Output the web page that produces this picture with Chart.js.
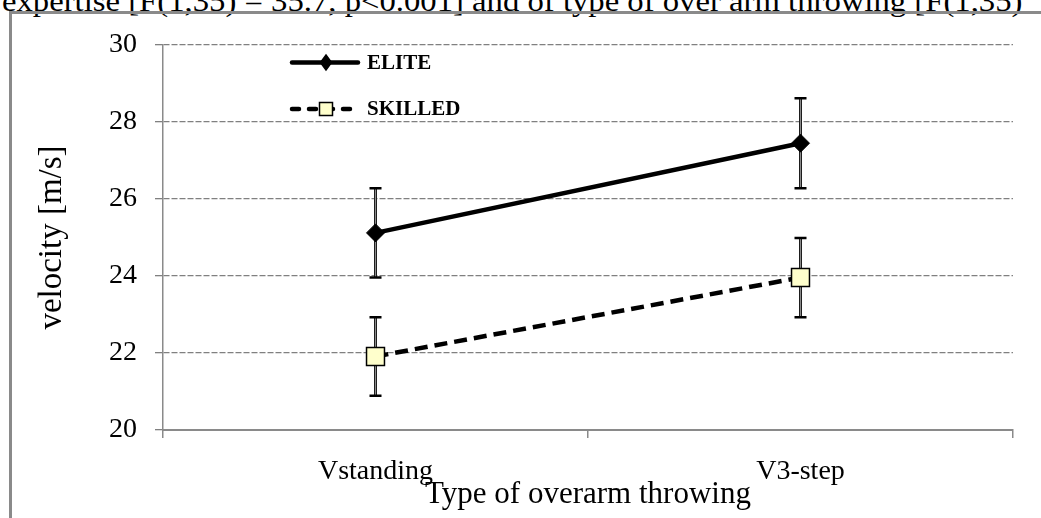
<!DOCTYPE html>
<html>
<head>
<meta charset="utf-8">
<script src="https://cdn.jsdelivr.net/npm/chart.js@4/dist/chart.umd.min.js"></script>
<style>
  html, body { margin: 0; padding: 0; background: #fff; overflow: hidden; }
  #page { position: relative; width: 1041px; height: 518px; overflow: hidden; }
  #frame { position: absolute; left: 9px; top: 11px; width: 2000px; height: 2000px;
           border-left: 3px solid #8a8a8a; border-top: 3px solid #8a8a8a; }
  #bodytext { position: absolute; left: 2px; top: -14px; white-space: nowrap;
              font-family: "Liberation Serif", "Times New Roman", serif; font-size: 30px;
              line-height: 30px; color: #000; transform-origin: 0 0; transform: scaleX(1.09); }
  #chart { position: absolute; left: 0; top: 0; }
</style>
</head>
<body>
<div id="page">
  <div id="bodytext">expertise [F(1,35) = 35.7, p&lt;0.001] and of type of over arm throwing [F(1,35)</div>
  <div id="frame"></div>
  <canvas id="chart" width="1041" height="518"></canvas>
</div>
<script>
// Throwing types on the x axis
const categories = ['Vstanding', 'V3-step'];

// Mean ball velocity (m/s) and standard deviations per group
const eliteMeans = [25.12, 27.45];
const eliteSD = [1.16, 1.17];
const skilledMeans = [21.91, 23.96];
const skilledSD = [1.02, 1.03];

// Velocity axis range
const yMin = 20;
const yMax = 30;
const yStep = 2;

const SERIF = '"Liberation Serif", "Times New Roman", serif';

// Error bars: grey stem with black caps, drawn under the lines and markers
const errorBarPlugin = {
  id: 'errorBars',
  beforeDatasetsDraw(chart) {
    const ctx = chart.ctx;
    const y = chart.scales.y;
    chart.data.datasets.forEach((ds, i) => {
      const meta = chart.getDatasetMeta(i);
      meta.data.forEach((pt, j) => {
        const sd = ds.errors[j];
        const v = ds.data[j];
        const yTop = y.getPixelForValue(v + sd);
        const yBot = y.getPixelForValue(v - sd);
        const x = pt.x;
        ctx.save();
        ctx.lineCap = 'butt';
        ctx.strokeStyle = '#111';
        ctx.lineWidth = 3;
        ctx.beginPath();
        ctx.moveTo(x, yTop); ctx.lineTo(x, yBot);
        ctx.stroke();
        ctx.strokeStyle = '#8a8a8a';
        ctx.lineWidth = 1.2;
        ctx.beginPath();
        ctx.moveTo(x, yTop); ctx.lineTo(x, yBot);
        ctx.stroke();
        ctx.strokeStyle = '#000';
        ctx.lineWidth = 2.5;
        ctx.beginPath();
        ctx.moveTo(x - 6, yTop); ctx.lineTo(x + 6, yTop);
        ctx.moveTo(x - 6, yBot); ctx.lineTo(x + 6, yBot);
        ctx.stroke();
        ctx.restore();
      });
    });
  }
};

// Legend inside the plot, upper left
const insideLegendPlugin = {
  id: 'insideLegend',
  afterDatasetsDraw(chart) {
    const ctx = chart.ctx;
    const x0 = 290, x1 = 360, rows = [62.5, 109];
    chart.data.datasets.forEach((ds, i) => {
      const yy = rows[i];
      ctx.save();
      ctx.strokeStyle = ds.borderColor;
      ctx.lineWidth = 4.5;
      ctx.lineCap = 'round';
      ctx.setLineDash(ds.borderDash && ds.borderDash.length ? [7, 10] : []);
      ctx.beginPath();
      ctx.moveTo(x0 + 2, yy); ctx.lineTo(x1 - 2, yy);
      ctx.stroke();
      ctx.setLineDash([]);
      const mx = (x0 + x1) / 2 + 1;
      ctx.fillStyle = ds.pointBackgroundColor;
      ctx.strokeStyle = ds.pointBorderColor;
      ctx.lineWidth = 1.5;
      ctx.beginPath();
      if (ds.pointStyle === 'rectRot') {
        ctx.moveTo(mx, yy - 7.5); ctx.lineTo(mx + 5.5, yy);
        ctx.lineTo(mx, yy + 7.5); ctx.lineTo(mx - 5.5, yy);
        ctx.closePath();
      } else {
        ctx.rect(mx - 6.5, yy - 6.5, 13, 13);
      }
      ctx.fill();
      ctx.stroke();
      ctx.fillStyle = '#000';
      ctx.font = 'bold 21px ' + SERIF;
      ctx.textBaseline = 'middle';
      ctx.textAlign = 'left';
      ctx.fillText(ds.label, 367, yy + 1);
      ctx.restore();
    });
  }
};

new Chart(document.getElementById('chart'), {
  type: 'line',
  data: {
    labels: categories,
    datasets: [
      {
        label: 'ELITE',
        data: eliteMeans,
        errors: eliteSD,
        borderColor: '#000',
        borderWidth: 4.5,
        pointStyle: 'rectRot',
        pointRadius: 9,
        pointBackgroundColor: '#000',
        pointBorderColor: '#000',
        pointBorderWidth: 1,
        tension: 0
      },
      {
        label: 'SKILLED',
        data: skilledMeans,
        errors: skilledSD,
        borderColor: '#000',
        borderWidth: 4.5,
        borderDash: [13, 7],
        pointStyle: 'rect',
        pointRadius: 12.7,
        pointBackgroundColor: '#ffffcc',
        pointBorderColor: '#000',
        pointBorderWidth: 1.5,
        tension: 0
      }
    ]
  },
  options: {
    responsive: false,
    animation: false,
    devicePixelRatio: 1,
    layout: { padding: { left: 0, right: 28, top: 45, bottom: 0 } },
    plugins: {
      legend: { display: false },
      tooltip: { enabled: false }
    },
    scales: {
      x: {
        type: 'category',
        offset: true,
        afterFit(scale) { scale.height = 88; },
        grid: {
          offset: true,
          drawOnChartArea: false,
          drawTicks: true,
          tickLength: 8,
          color: '#8a8a8a',
          tickColor: '#8a8a8a',
          lineWidth: 1.5
        },
        border: { display: true, color: '#8a8a8a', width: 2 },
        ticks: {
          color: '#000',
          padding: 17,
          font: { family: SERIF, size: 28 }
        },
        title: {
          display: true,
          text: 'Type of overarm throwing',
          color: '#000',
          font: { family: SERIF, size: 31 },
          padding: { top: 0, bottom: 5 }
        }
      },
      y: {
        min: yMin,
        max: yMax,
        afterFit(scale) { scale.width = 163; },
        ticks: {
          stepSize: yStep,
          color: '#000',
          padding: 18,
          font: { family: SERIF, size: 28 }
        },
        grid: {
          color: (c) => (c.tick && c.tick.value === yMin) ? 'rgba(0,0,0,0)' : '#808080',
          tickColor: '#808080',
          tickLength: 8,
          lineWidth: 1.3
        },
        border: { display: true, color: '#8a8a8a', width: 1.5, dash: [6, 2] },
        title: {
          display: true,
          text: 'velocity [m/s]',
          color: '#000',
          font: { family: SERIF, size: 33 },
          padding: { top: 33, bottom: 0 }
        }
      }
    }
  },
  plugins: [errorBarPlugin, insideLegendPlugin]
});
</script>
</body>
</html>
